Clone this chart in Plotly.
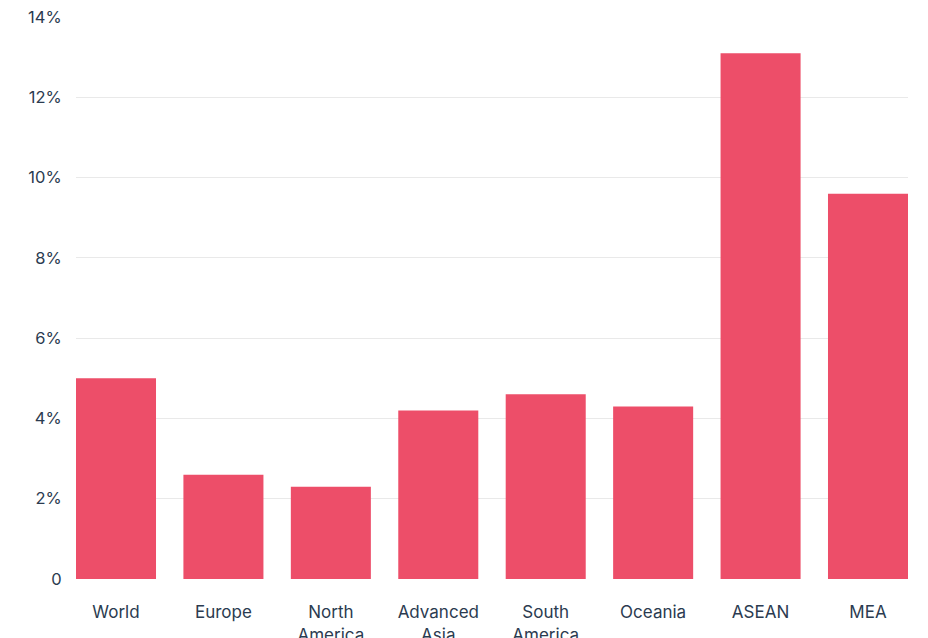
import plotly.graph_objects as go

regions = ["World", "Europe", "North<br>America", "Advanced<br>Asia", "South<br>America", "Oceania", "ASEAN", "MEA"]
growth = [5.0, 2.6, 2.3, 4.2, 4.6, 4.3, 13.1, 9.6]
y_tickvals = [0, 2, 4, 6, 8, 10, 12, 14]
y_ticktext = ["0", "2%", "4%", "6%", "8%", "10%", "12%", "14%"]

text_color = "#2b3b50"
bar_color = "#ED4E69"

fig = go.Figure(go.Bar(
    x=regions, y=growth, marker=dict(color=bar_color, line=dict(width=0)),
    width=0.745,
))

# the page body adds an 8px offset; margins compensate for it
fig.update_layout(
    width=928, height=638,
    margin=dict(l=68, r=28, t=8, b=67),
    plot_bgcolor="white", paper_bgcolor="white",
    font=dict(family="Inter", size=16, color=text_color),
    showlegend=False,
    bargap=0.255,
)
fig.update_xaxes(
    range=[-0.3723, 7.3723], showgrid=False, zeroline=False, showline=False,
    ticks="outside", ticklen=18, tickcolor="rgba(0,0,0,0)", automargin=False,
    tickfont=dict(size=17, color=text_color),
)
fig.update_yaxes(
    range=[0, 14.025], tickvals=y_tickvals, ticktext=y_ticktext,
    showgrid=True, gridcolor="#e9e9e9", gridwidth=1,
    zeroline=True, zerolinecolor="white", showline=False,
    ticks="outside", ticklen=10, tickcolor="rgba(0,0,0,0)", automargin=False,
    ticklabeloverflow="allow",
    tickfont=dict(size=16.5, color=text_color),
)

fig.write_html("out.html")
